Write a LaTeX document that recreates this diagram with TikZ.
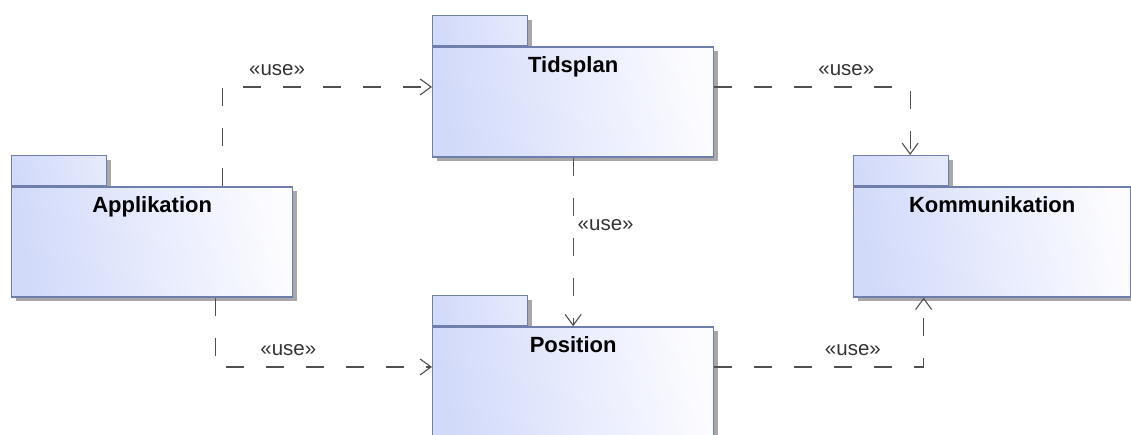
\documentclass[tikz,border=0pt]{standalone}
\usepackage{fontspec}
\setmainfont{Liberation Sans}
\usetikzlibrary{arrows.meta,shadows}
\definecolor{PkgLineClr}{RGB}{112,126,172}
\definecolor{PkgFillClr}{RGB}{210,218,250}
\definecolor{PkgLightClr}{RGB}{252,252,255}
\definecolor{ShadowClr}{RGB}{168,168,168}
\definecolor{UseClr}{RGB}{80,80,80}

\tikzset{
  pkg/.style={draw=PkgLineClr,line width=1.3pt,
    top color=PkgFillClr,bottom color=PkgLightClr,shading angle=100,
    minimum width=281pt,minimum height=110pt,inner sep=0pt,anchor=north west,
    general shadow={fill=ShadowClr,shadow xshift=4pt,shadow yshift=-4pt}},
  pkgtab/.style={pkg,bottom color=PkgFillClr!55!PkgLightClr,shading angle=100,
    minimum width=95pt,minimum height=30pt},
  pkgname/.style={font=\bfseries\fontsize{22}{26}\selectfont,anchor=base,inner sep=0pt},
  usedep/.style={draw=UseClr,line width=1.1pt,dash pattern=on 18pt off 22pt,
    -{Straight Barb[length=11pt,width=16pt]}},
  usetag/.style={font=\fontsize{20.5}{24}\selectfont,text=black!80,anchor=base,inner sep=0pt}
}

\begin{document}
\begin{tikzpicture}[x=1pt,y=1pt]
\useasboundingbox (0,0) rectangle (1131,-434);

% packages: tab first, body hangs below it
\node[pkgtab] (appTab) at (11,-155) {};
\node[pkg] (app) at (appTab.south west) {};
\node[pkgtab] (tidsTab) at (432,-15) {};
\node[pkg] (tids) at (tidsTab.south west) {};
\node[pkgtab] (posTab) at (432,-295) {};
\node[pkg] (pos) at (posTab.south west) {};
\node[pkgtab] (kommTab) at (853,-155) {};
\node[pkg,minimum width=277pt] (komm) at (kommTab.south west) {};

\node[pkgname] (appName) at ([yshift=-26pt]app.north) {Applikation};
\node[pkgname] (tidsName) at ([yshift=-26pt]tids.north) {Tidsplan};
\node[pkgname] (posName) at ([yshift=-26pt]pos.north) {Position};
\node[pkgname] (kommName) at ([yshift=-26pt]komm.north) {Kommunikation};

% use dependencies
\draw[usedep] ([xshift=70.5pt]app.north) |- ([yshift=15pt]tids.west)
  node[usetag,pos=0.63,yshift=11pt] (appTidsUse) {«use»};
\draw[usedep] ([xshift=63.5pt]app.south) |- ([yshift=15pt]pos.west)
  node[usetag,pos=0.668,yshift=11pt] (appPosUse) {«use»};
\draw[usedep] (tids.south) -- (pos.north)
  node[usetag,pos=0.43,anchor=base west,xshift=4pt] (tidsPosUse) {«use»};
\draw[usedep] ([yshift=15pt]tids.east) -| ([xshift=9pt]kommTab.north)
  node[usetag,pos=0.337,yshift=11pt] (tidsKommUse) {«use»};
\draw[usedep] ([yshift=15pt]pos.east) -| ([xshift=-68.5pt]komm.south)
  node[usetag,pos=0.331,yshift=11pt] (posKommUse) {«use»};
\end{tikzpicture}
\end{document}
